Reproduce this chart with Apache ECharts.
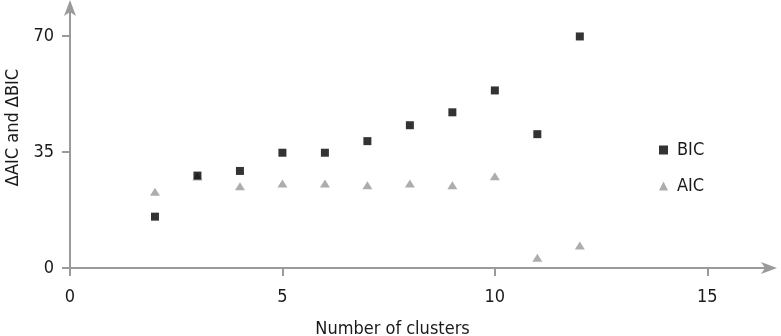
<!DOCTYPE html>
<html>
<head>
<meta charset="utf-8">
<script src="https://cdn.jsdelivr.net/npm/echarts@6/dist/echarts.min.js"></script>
<style>
  html, body { margin: 0; padding: 0; background: #fff; }
  #chart { width: 781px; height: 336px; }
</style>
</head>
<body>
<div id="chart"></div>
<script>
const clusters = [2, 3, 4, 5, 6, 7, 8, 9, 10, 11, 12];
const bicValues = [15.5, 27.9, 29.3, 34.8, 34.8, 38.3, 43.1, 47.0, 53.6, 40.4, 69.9];
const aicValues = [23.0, 27.6, 24.7, 25.5, 25.5, 25.0, 25.5, 25.0, 27.7, 3.1, 6.8];
const xTicks = [0, 5, 10, 15];
const yTicks = [0, 35, 70];

const font = "'Liberation Sans Narrow', 'DejaVu Sans Condensed', sans-serif";
const axisGray = "#9a9a9a";
const textColor = "#1a1a1a";

var chartDom = document.getElementById("chart");
var myChart = echarts.init(chartDom);
var option;

option = {
  animation: false,
  textStyle: { fontFamily: font, color: textColor },
  grid: {
    left: 70,
    right: 10,
    top: 3,
    bottom: 68,
    outerBoundsMode: "none",
    containLabel: false,
  },
  legend: {
    orient: "vertical",
    left: 654,
    top: 136,
    itemWidth: 9,
    itemHeight: 9,
    itemGap: 18,
    textStyle: { fontFamily: font, fontSize: 18, color: textColor, padding: [0, 0, 0, 4] },
    data: [
      { name: "BIC", icon: "rect" },
      { name: "AIC", icon: "triangle" },
    ],
  },
  xAxis: {
    type: "value",
    min: 0,
    max: 16.5,
    name: "Number of clusters",
    nameLocation: "middle",
    nameGap: 52,
    nameTextStyle: { fontFamily: font, fontSize: 18, color: textColor, padding: [0, 56, 0, 0] },
    splitLine: { show: false },
    axisLine: {
      onZero: false,
      symbol: ["none", "arrow"],
      symbolSize: [9, 16],
      symbolOffset: [0, 6],
      lineStyle: { color: axisGray, width: 2 },
    },
    axisTick: { show: true, length: 8, customValues: xTicks, lineStyle: { color: axisGray, width: 2 } },
    axisLabel: { customValues: xTicks, margin: 20, fontFamily: font, fontSize: 18, color: textColor },
  },
  yAxis: {
    type: "value",
    min: 0,
    max: 80,
    name: "ΔAIC and ΔBIC",
    nameLocation: "middle",
    nameGap: 46,
    nameTextStyle: { fontFamily: font, fontSize: 18, color: textColor, padding: [0, 0, 0, 16] },
    splitLine: { show: false },
    axisLine: {
      onZero: false,
      symbol: ["none", "arrow"],
      symbolSize: [9, 16],
      symbolOffset: [0, 3],
      lineStyle: { color: axisGray, width: 2 },
    },
    axisTick: { show: true, length: 8, customValues: yTicks, lineStyle: { color: axisGray, width: 2 } },
    axisLabel: { customValues: yTicks, margin: 16, fontFamily: font, fontSize: 18, color: textColor },
  },
  series: [
    {
      name: "BIC",
      type: "scatter",
      symbol: "rect",
      symbolSize: 8,
      itemStyle: { color: "#000" },
      data: clusters.map((c, i) => [c, bicValues[i]]),
      z: 3,
    },
    {
      name: "AIC",
      type: "scatter",
      symbol: "triangle",
      symbolSize: [10, 8],
      itemStyle: { color: "#999" },
      data: clusters.map((c, i) => [c, aicValues[i]]),
      z: 2,
    },
  ],
};

option && myChart.setOption(option);
</script>
</body>
</html>
